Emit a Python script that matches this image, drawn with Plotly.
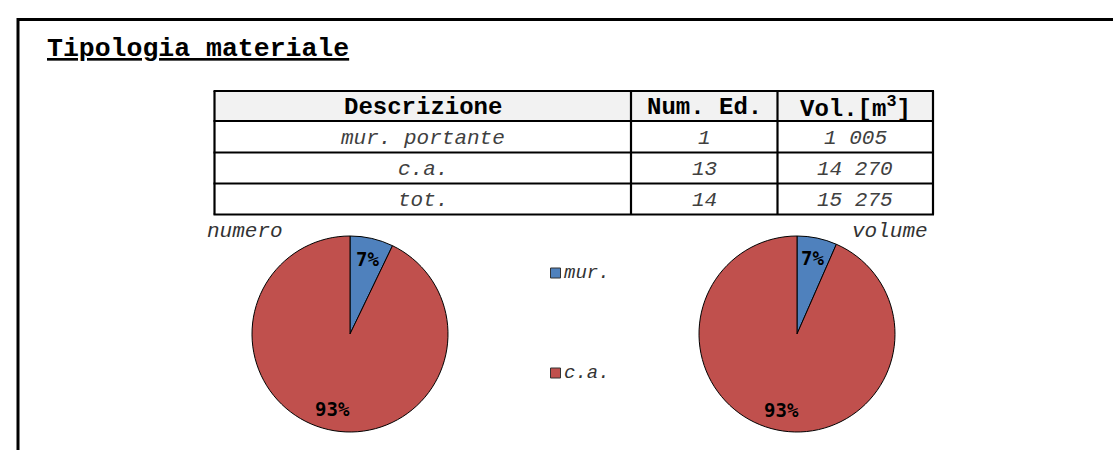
import math
import plotly.graph_objects as go

# ---- data ----
descr = ["mur. portante", "c.a.", "tot."]
num_ed = [1, 13, 14]
vol = [1005, 14270, 15275]
header = ["Descrizione", "Num. Ed.", "Vol.[m<sup>3</sup>]"]
pie_labels = ["mur.", "c.a."]
pie_num = [1, 13]
pie_vol = [1005, 14270]
pie_titles = ["numero", "volume"]
colors = ["#4F81BD", "#C0504D"]
title = "Tipologia materiale"

W, H = 1113, 450
MONO = "Liberation Mono, Courier New, monospace"

# table geometry (pixels)
col_x = [214.5, 631, 777.5, 933]
row_y = [91, 121, 152.5, 183.5, 214.5]


def fmt(v):
    return f"{v:,}".replace(",", " ")


def px(x):
    return x / W


def py(y):
    return 1 - y / H


fig = go.Figure()

annotations = []
shapes = [
    dict(type="rect", x0=px(18), x1=1.1, y0=-0.1, y1=py(19.5),
         line=dict(color="black", width=3), fillcolor="rgba(0,0,0,0)", layer="below"),
    dict(type="rect", x0=px(col_x[0]), x1=px(col_x[-1]), y0=py(row_y[1]), y1=py(row_y[0]),
         fillcolor="#F2F2F2", line=dict(width=0), layer="below"),
]
for y in row_y:
    shapes.append(dict(type="line", x0=px(col_x[0] - 1), x1=px(col_x[-1] + 1), y0=py(y), y1=py(y),
                       line=dict(color="black", width=2.2)))
for x in col_x:
    shapes.append(dict(type="line", x0=px(x), x1=px(x), y0=py(row_y[-1]), y1=py(row_y[0]),
                       line=dict(color="black", width=2.2)))

# header
for j, h in enumerate(header):
    annotations.append(dict(text=f"<b>{h}</b>", x=px((col_x[j] + col_x[j + 1]) / 2),
                            y=py((row_y[0] + row_y[1]) / 2 + 1.5),
                            font=dict(family=MONO, size=24, color="black")))
# body
columns = [descr, [str(v) for v in num_ed], [fmt(v) for v in vol]]
for j, col in enumerate(columns):
    for i, val in enumerate(col):
        annotations.append(dict(text=f"<i>{val}</i>", x=px((col_x[j] + col_x[j + 1]) / 2),
                                y=py((row_y[i + 1] + row_y[i + 2]) / 2 + 1.5),
                                font=dict(family=MONO, size=21, color="#404040")))

# pies
R = 98
for k, (vals, cx) in enumerate([(pie_num, 350), (pie_vol, 797)]):
    cy = 334
    fig.add_trace(go.Pie(
        labels=pie_labels, values=vals, sort=False, direction="clockwise",
        rotation=0,
        domain=dict(x=[px(cx - R), px(cx + R)], y=[py(cy + R), py(cy - R)]),
        marker=dict(colors=colors, line=dict(color="black", width=1)),
        textinfo="none", showlegend=False,
    ))
    tot = sum(vals)
    start = 0.0
    for v in vals:
        frac = v / tot
        mid = (start + frac / 2) * 2 * math.pi
        start += frac
        r = 0.79 * R
        annotations.append(dict(text=f"<b>{round(frac * 100)}%</b>",
                                x=px(cx + r * math.sin(mid)), y=py(cy - r * math.cos(mid)),
                                font=dict(family="DejaVu Sans Mono", size=19, color="black")))

annotations += [
    dict(text=f"<u><b>{title}</b></u>", x=px(44.5), y=py(49), xanchor="left",
         font=dict(family=MONO, size=26.5, color="black")),
    dict(text=f"<i>{pie_titles[0]}</i>", x=px(205), y=py(231.5), xanchor="left",
         font=dict(family=MONO, size=21, color="#333")),
    dict(text=f"<i>{pie_titles[1]}</i>", x=px(930), y=py(231.5), xanchor="right",
         font=dict(family=MONO, size=21, color="#333")),
]

for i, (lab, col) in enumerate(zip(pie_labels, colors)):
    yc = 273 + 100 * i
    shapes.append(dict(type="rect", x0=px(550.5), x1=px(560.5),
                       y0=py(yc + 5), y1=py(yc - 5), fillcolor=col,
                       line=dict(color="#333", width=1)))
    annotations.append(dict(text=f"<i>{lab}</i>", x=px(562), y=py(yc), xanchor="left",
                            font=dict(family=MONO, size=19, color="#333")))

for a in annotations:
    a.setdefault("yanchor", "middle")
    a.setdefault("xanchor", "center")
    a.update(xref="paper", yref="paper", showarrow=False)
for s in shapes:
    s.update(xref="paper", yref="paper")

fig.update_layout(width=W, height=H, margin=dict(l=0, r=0, t=0, b=0),
                  paper_bgcolor="white", plot_bgcolor="white",
                  annotations=annotations, shapes=shapes, showlegend=False)
fig.write_html("out.html", config={"displayModeBar": False},
               post_script="document.body.style.margin='0';document.body.style.overflow='hidden';")
